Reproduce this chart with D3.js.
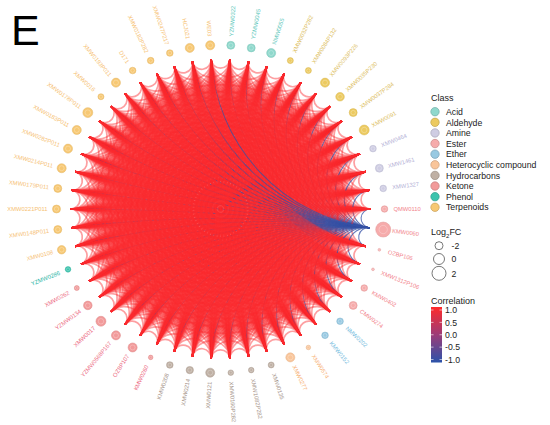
<!DOCTYPE html>
<html>
<head>
<meta charset="utf-8">
<script src="https://cdn.jsdelivr.net/npm/d3@7"></script>
<style>
body { margin: 0; background: #fff; }
svg { font-family: "Liberation Sans", Arial, sans-serif; }
</style>
</head>
<body>
<svg width="550" height="425"></svg>
<script>
// metabolites, clockwise from 12 o'clock
var names = ["YZMW0322", "YZMW0045", "NMW0055", "XMW0032P282", "XMW0084P132", "XMW0093P226",
  "XMW0035P230", "XMW0037P284", "XMW0091", "XMW0464", "XMW1461", "XMW1327",
  "QMW0110", "KMW0060", "OZBP106", "XMW1312P106", "KMW0402", "CMW0274",
  "NMW0202", "KMW0152", "XMW0574", "XMW0277", "XMW0135", "XMW1082P282",
  "XMW0160P282", "XMW0121", "XMW0214", "KMW0208", "KMW0260", "OZBP107",
  "YZMW0568P167", "XMW0017", "YZMW0134", "XMW0262", "YZMW0286", "XMW0108",
  "XMW0148P011", "XMW0221P011", "XMW0179P011", "XMW0214P011", "XMW0282P011", "XMW0183P011",
  "XMW0178P011", "XMW0016", "XMW0193P011", "D171", "XMW0182P282", "XMW0247P217",
  "HCJ021", "WE03"];

var classes = ["Acid", "Acid", "Acid", "Aldehyde", "Aldehyde", "Aldehyde",
  "Aldehyde", "Aldehyde", "Aldehyde", "Amine", "Amine", "Amine",
  "Ester", "Ester", "Ester", "Ester", "Ester", "Ester",
  "Ether", "Ether", "Heterocyclic compound", "Heterocyclic compound", "Hydrocarbons", "Hydrocarbons",
  "Hydrocarbons", "Hydrocarbons", "Hydrocarbons", "Hydrocarbons", "Ketone", "Ketone",
  "Ketone", "Ketone", "Ketone", "Ketone", "Phenol", "Terpenoids",
  "Terpenoids", "Terpenoids", "Terpenoids", "Terpenoids", "Terpenoids", "Terpenoids",
  "Terpenoids", "Terpenoids", "Terpenoids", "Terpenoids", "Terpenoids", "Terpenoids",
  "Terpenoids", "Terpenoids"];

var log2fc = [-2.0, -2.0, -1.3, -3.3, -3.3, -1.3,
  -1.6, -2.0, -0.7, -2.9, -2.0, -2.9,
  -2.9, 2.7, -5.5, -5.5, -2.9, -2.0,
  -2.9, -2.9, -4.3, -1.3, -3.3, -3.6,
  -3.6, -1.3, -2.4, -2.9, -4.3, -1.3,
  -1.3, -0.7, -1.6, -4.0, -3.6, -1.7,
  -2.0, -2.0, -2.0, -1.3, -1.3, -1.3,
  -0.7, -3.3, -1.3, -2.9, -2.9, -2.9,
  -1.3, -1.3];

var classList = ["Acid", "Aldehyde", "Amine", "Ester", "Ether", "Heterocyclic compound",
  "Hydrocarbons", "Ketone", "Phenol", "Terpenoids"];
var classFill = ["#8fd8cc", "#ecca60", "#cfcde3", "#f6abab", "#98c9e2", "#f9c59a",
  "#bfb0a4", "#f29a9a", "#3cc4ae", "#f7c873"];
var classText = ["#5cc7ba", "#dcbd5e", "#b3b0d6", "#f2838b", "#72badd", "#f7b277",
  "#a6948a", "#ec6a7f", "#22b3a4", "#f6c173"];

// correlation: everything strongly positive, except KMW0060 against all others
var negPartner = "KMW0060";
var negCor = -0.9;
var posCor = 0.95;

var sizeTicks = [-2, 0, 2];
var corTicks = [1, 0.5, 0, -0.5, -1];

var svg = d3.select("svg");
var cx = 220.5, cy = 209;
var rLink = 150, rNode = 164, rLabel = 173;

var ang = d3.scaleBand().domain(names).range([0, 2 * Math.PI]);
function angle(n) { return ang(n) + ang.bandwidth() / 2; }

var fill = d3.scaleOrdinal().domain(classList).range(classFill);
var textCol = d3.scaleOrdinal().domain(classList).range(classText);
var size = d3.scaleLinear().domain([-2, 2]).range([4, 7]);
var corCol = d3.scaleLinear().domain([-1, 0, 1]).range(["#2b53aa", "#9c3c78", "#ff2a2a"]);

// edge list in column order of the upper triangle
var links = [];
for (var j = 1; j < names.length; j++) {
  for (var i = 0; i < j; i++) {
    var r = (names[i] === negPartner || names[j] === negPartner) ? negCor : posCor;
    links.push({ s: names[i], t: names[j], cor: r });
  }
}

function tip(n) {
  var a = angle(n);
  return [cx + rLink * Math.sin(a), cy - rLink * Math.cos(a)];
}

// arcs that meet the circle at right angles
function arcPath(d) {
  var p0 = tip(d.s), p1 = tip(d.t);
  var dd = angle(d.t) - angle(d.s);
  while (dd > Math.PI) dd -= 2 * Math.PI;
  while (dd <= -Math.PI) dd += 2 * Math.PI;
  var D = Math.abs(dd);
  if (Math.abs(D - Math.PI) < 1e-6) return "M" + p0 + "L" + p1;
  var rho = rLink * Math.tan(D / 2);
  var sweep = dd > 0 ? 0 : 1;
  return "M" + p0[0] + "," + p0[1] + "A" + rho + "," + rho + " 0 0 " + sweep + " " + p1[0] + "," + p1[1];
}

svg.append("g")
  .selectAll("path")
  .data(links)
  .enter()
  .append("path")
  .attr("d", arcPath)
  .attr("fill", "none")
  .attr("stroke", function(d) { return corCol(d.cor); })
  .attr("stroke-width", function(d) { return d.cor < 0 ? 1.1 : 1.7; })
  .attr("stroke-opacity", function(d) { return d.cor < 0 ? 0.75 : 0.45; });

var nodes = names.map(function(n, k) { return { name: n, cls: classes[k], fc: log2fc[k] }; });

var node = svg.append("g")
  .selectAll("g")
  .data(nodes)
  .enter()
  .append("g")
  .attr("transform", function(d) {
    var a = angle(d.name);
    return "translate(" + [cx + rNode * Math.sin(a), cy - rNode * Math.cos(a)] + ")";
  });

node.append("circle")
  .attr("r", function(d) { return size(d.fc); })
  .attr("fill", function(d) { return fill(d.cls); })
  .attr("stroke", function(d) { return d3.color(fill(d.cls)).darker(0.25); })
  .attr("stroke-width", 0.5);

node.append("circle")
  .attr("r", function(d) { return size(d.fc) * 0.55; })
  .attr("fill", "none")
  .attr("stroke", "#fff")
  .attr("stroke-opacity", 0.5)
  .attr("stroke-width", 0.5);

svg.append("g")
  .selectAll("text")
  .data(nodes)
  .enter()
  .append("text")
  .attr("transform", function(d) {
    var a = angle(d.name), deg = a * 180 / Math.PI;
    var x = cx + rLabel * Math.sin(a), y = cy - rLabel * Math.cos(a);
    var rot = deg < 180 ? deg - 90 : deg + 90;
    return "translate(" + [x, y] + ") rotate(" + rot + ")";
  })
  .attr("text-anchor", function(d) { return angle(d.name) < Math.PI ? "start" : "end"; })
  .attr("dominant-baseline", "central")
  .attr("font-size", 5.8)
  .attr("fill", function(d) { return textCol(d.cls); })
  .text(function(d) { return d.name; });

// panel letter
svg.append("text")
  .attr("x", 11).attr("y", 45)
  .attr("font-size", 43)
  .attr("fill", "#000")
  .text("E");

// class legend
var leg = svg.append("g").attr("font-size", 8.7).attr("fill", "#222");
leg.append("text").attr("x", 431).attr("y", 101).attr("font-size", 9).text("Class");
var item = leg.selectAll("g.cls")
  .data(classList)
  .enter()
  .append("g")
  .attr("class", "cls")
  .attr("transform", function(d, k) { return "translate(435," + (111.7 + k * 10.62) + ")"; });
item.append("circle")
  .attr("r", 4.2)
  .attr("fill", function(d) { return fill(d); })
  .attr("stroke", function(d) { return d3.color(fill(d)).darker(0.6); })
  .attr("stroke-width", 0.7);
item.append("text")
  .attr("x", 11).attr("y", 3.2)
  .text(function(d) { return d; });

// size legend
var sl = svg.append("g").attr("font-size", 8.7).attr("fill", "#222");
var t2 = sl.append("text").attr("x", 431).attr("y", 235).attr("font-size", 9);
t2.append("tspan").text("Log");
t2.append("tspan").attr("font-size", 6).attr("dy", 2.5).text("2");
t2.append("tspan").attr("dy", -2.5).text("FC");
var sy = [245.7, 259, 273.3];
var sItem = sl.selectAll("g.sz")
  .data(sizeTicks)
  .enter()
  .append("g")
  .attr("class", "sz")
  .attr("transform", function(d, k) { return "translate(439," + sy[k] + ")"; });
sItem.append("circle")
  .attr("r", function(d) { return size(d); })
  .attr("fill", "none")
  .attr("stroke", "#555")
  .attr("stroke-width", 0.8);
sItem.append("text")
  .attr("x", 12.5).attr("y", 3.2)
  .text(function(d) { return d; });

// correlation colourbar
var cl = svg.append("g");
cl.append("text").attr("x", 431).attr("y", 304).attr("font-size", 9).attr("fill", "#222").text("Correlation");
var grad = svg.append("defs").append("linearGradient")
  .attr("id", "corgrad").attr("x1", 0).attr("y1", 0).attr("x2", 0).attr("y2", 1);
d3.range(0, 1.0001, 0.1).forEach(function(f) {
  grad.append("stop").attr("offset", f).attr("stop-color", corCol(1 - 2 * f));
});
var cy2 = d3.scaleLinear().domain([1, -1]).range([310, 359.5]);
cl.append("rect")
  .attr("x", 431).attr("y", 307)
  .attr("width", 11).attr("height", 55.5)
  .attr("fill", "url(#corgrad)");
var fmt = d3.format(".1f");
var ax = cl.append("g")
  .attr("transform", "translate(442,0)")
  .call(d3.axisRight(cy2).tickValues(corTicks)
    .tickFormat(function(d) { return fmt(d).replace("\u2212", "-"); })
    .tickSize(0).tickPadding(3));
ax.select(".domain").remove();
ax.selectAll("text").attr("font-size", 8.7).attr("fill", "#222")
  .attr("font-family", "Liberation Sans, Arial, sans-serif");
cl.selectAll("line.tk")
  .data(corTicks)
  .enter()
  .append("line")
  .attr("class", "tk")
  .attr("x1", 431).attr("x2", 433.5)
  .attr("y1", function(d) { return cy2(d); })
  .attr("y2", function(d) { return cy2(d); })
  .attr("stroke", "#fff").attr("stroke-width", 0.6);
cl.selectAll("line.tk2")
  .data(corTicks)
  .enter()
  .append("line")
  .attr("class", "tk2")
  .attr("x1", 439.5).attr("x2", 442)
  .attr("y1", function(d) { return cy2(d); })
  .attr("y2", function(d) { return cy2(d); })
  .attr("stroke", "#fff").attr("stroke-width", 0.6);
</script>
</body>
</html>
